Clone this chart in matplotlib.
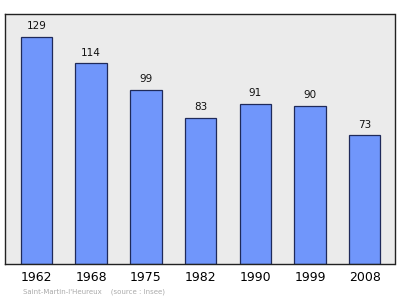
import matplotlib
matplotlib.use("Agg")
import matplotlib.pyplot as plt

years = ["1962", "1968", "1975", "1982", "1990", "1999", "2008"]
population = [129, 114, 99, 83, 91, 90, 73]

fig = plt.figure(figsize=(4.0, 2.99), dpi=100)
W, H = 400, 299
ax = fig.add_axes([4.5 / W, 1 - 264 / H, 390 / W, (264 - 13.5) / H])
ax.set_facecolor("#ebebeb")

x = list(range(len(years)))
ax.bar(x, population, width=0.575, color="#7096fb", edgecolor="#1f2a5a", linewidth=0.9, zorder=2)
for xi, v in zip(x, population):
    ax.text(xi, v + 3.2, str(v), ha="center", va="bottom", fontsize=7.5, color="#111111")

ax.set_xlim(-0.585, 6.545)
ax.set_ylim(0, 142.3)
ax.set_xticks(x)
ax.set_xticklabels(years, fontsize=9)
ax.tick_params(axis="x", length=0, pad=5)
ax.set_yticks([])
for s in ax.spines.values():
    s.set_color("#222222")
    s.set_linewidth(1.0)

fig.text(23 / W, 1 - 292 / H, "Saint-Martin-l'Heureux    (source : Insee)", fontsize=5,
         color="#aaaaaa", ha="left", va="center")

fig.savefig("out.png", dpi=100, facecolor="white")
